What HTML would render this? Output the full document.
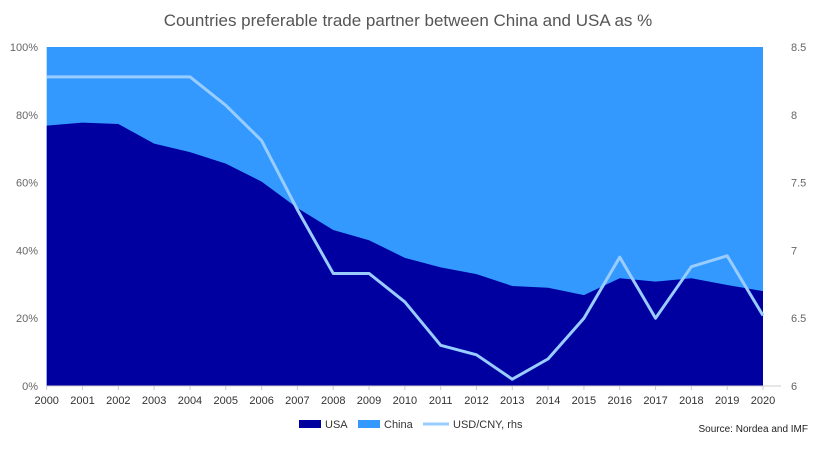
<!DOCTYPE html>
<html><head><meta charset="utf-8"><style>
body{margin:0;background:#fff;font-family:"Liberation Sans",sans-serif}
svg text{font-family:"Liberation Sans",sans-serif}
</style></head><body>
<svg width="815" height="444">
<text x="408" y="26" text-anchor="middle" font-size="17" fill="#555">Countries preferable trade partner between China and USA as %</text>
<g id="plot"></g>
<g id="axes"></g>
<g>
<rect x="299" y="420" width="22" height="8" fill="#0000a0"/>
<text x="325" y="428" font-size="11" fill="#333">USA</text>
<rect x="358" y="420" width="22" height="8" fill="#3399ff"/>
<text x="384" y="428" font-size="11" fill="#333">China</text>
<line x1="423" y1="424" x2="449" y2="424" stroke="#99ccff" stroke-width="3"/>
<text x="453" y="428" font-size="11" fill="#333">USD/CNY, rhs</text>
</g>
<text x="808" y="432" text-anchor="end" font-size="10" fill="#222">Source: Nordea and IMF</text>
</svg>
<script>
const years=[2000,2001,2002,2003,2004,2005,2006,2007,2008,2009,2010,2011,2012,2013,2014,2015,2016,2017,2018,2019,2020];
const usa=[76.8,77.7,77.3,71.5,69,65.6,60.3,52.5,46,43,37.8,35,33,29.5,29,26.8,31.8,30.8,31.8,29.8,28];
const usdcny=[8.28,8.28,8.28,8.28,8.28,8.07,7.81,7.3,6.83,6.83,6.62,6.3,6.23,6.05,6.2,6.5,6.95,6.5,6.88,6.96,6.52];
const leftTicks=[0,20,40,60,80,100];
const rightTicks=[6,6.5,7,7.5,8,8.5];
const X0=46.7,X1=763,Y0=386,Y1=47;
const ns="http://www.w3.org/2000/svg";
const x=i=>X0+(X1-X0)*i/(years.length-1);
const yl=v=>Y0-(Y0-Y1)*v/100;
const yr=v=>Y0-(Y0-Y1)*(v-6)/2.5;
function mk(t,a,p){const e=document.createElementNS(ns,t);for(const k in a)e.setAttribute(k,a[k]);p.appendChild(e);return e;}
const plot=document.getElementById('plot'),axes=document.getElementById('axes');
const china=mk('rect',{x:X0,y:Y1,width:X1-X0,height:Y0-Y1,fill:'#3399ff'},plot);


let d=`M${X0},${Y0}`;usa.forEach((v,i)=>d+=`L${x(i)},${yl(v)}`);d+=`L${X1},${Y0}Z`;
const ua=mk('path',{d:d,fill:'#0000a0'},plot);


const ln=mk('polyline',{points:usdcny.map((v,i)=>x(i)+','+yr(v)).join(' '),fill:'none',stroke:'#99ccff','stroke-width':3,'stroke-linejoin':'round'},plot);


mk('line',{x1:X0,y1:Y0,x2:781,y2:Y0,stroke:'#ccc'},axes);
leftTicks.forEach(v=>{const t=mk('text',{x:38,y:yl(v)+4,'text-anchor':'end','font-size':11,fill:'#666'},axes);t.textContent=v+'%';

});
rightTicks.forEach(v=>{const t=mk('text',{x:791,y:yr(v)+4,'font-size':11,fill:'#666'},axes);t.textContent=String(v);

});
years.forEach((yv,i)=>{mk('line',{x1:x(i),y1:Y0,x2:x(i),y2:Y0+4,stroke:'#ccc'},axes);const t=mk('text',{x:x(i),y:404,'text-anchor':'middle','font-size':11,fill:'#333'},axes);t.textContent=yv;

});
</script>
</body></html>
